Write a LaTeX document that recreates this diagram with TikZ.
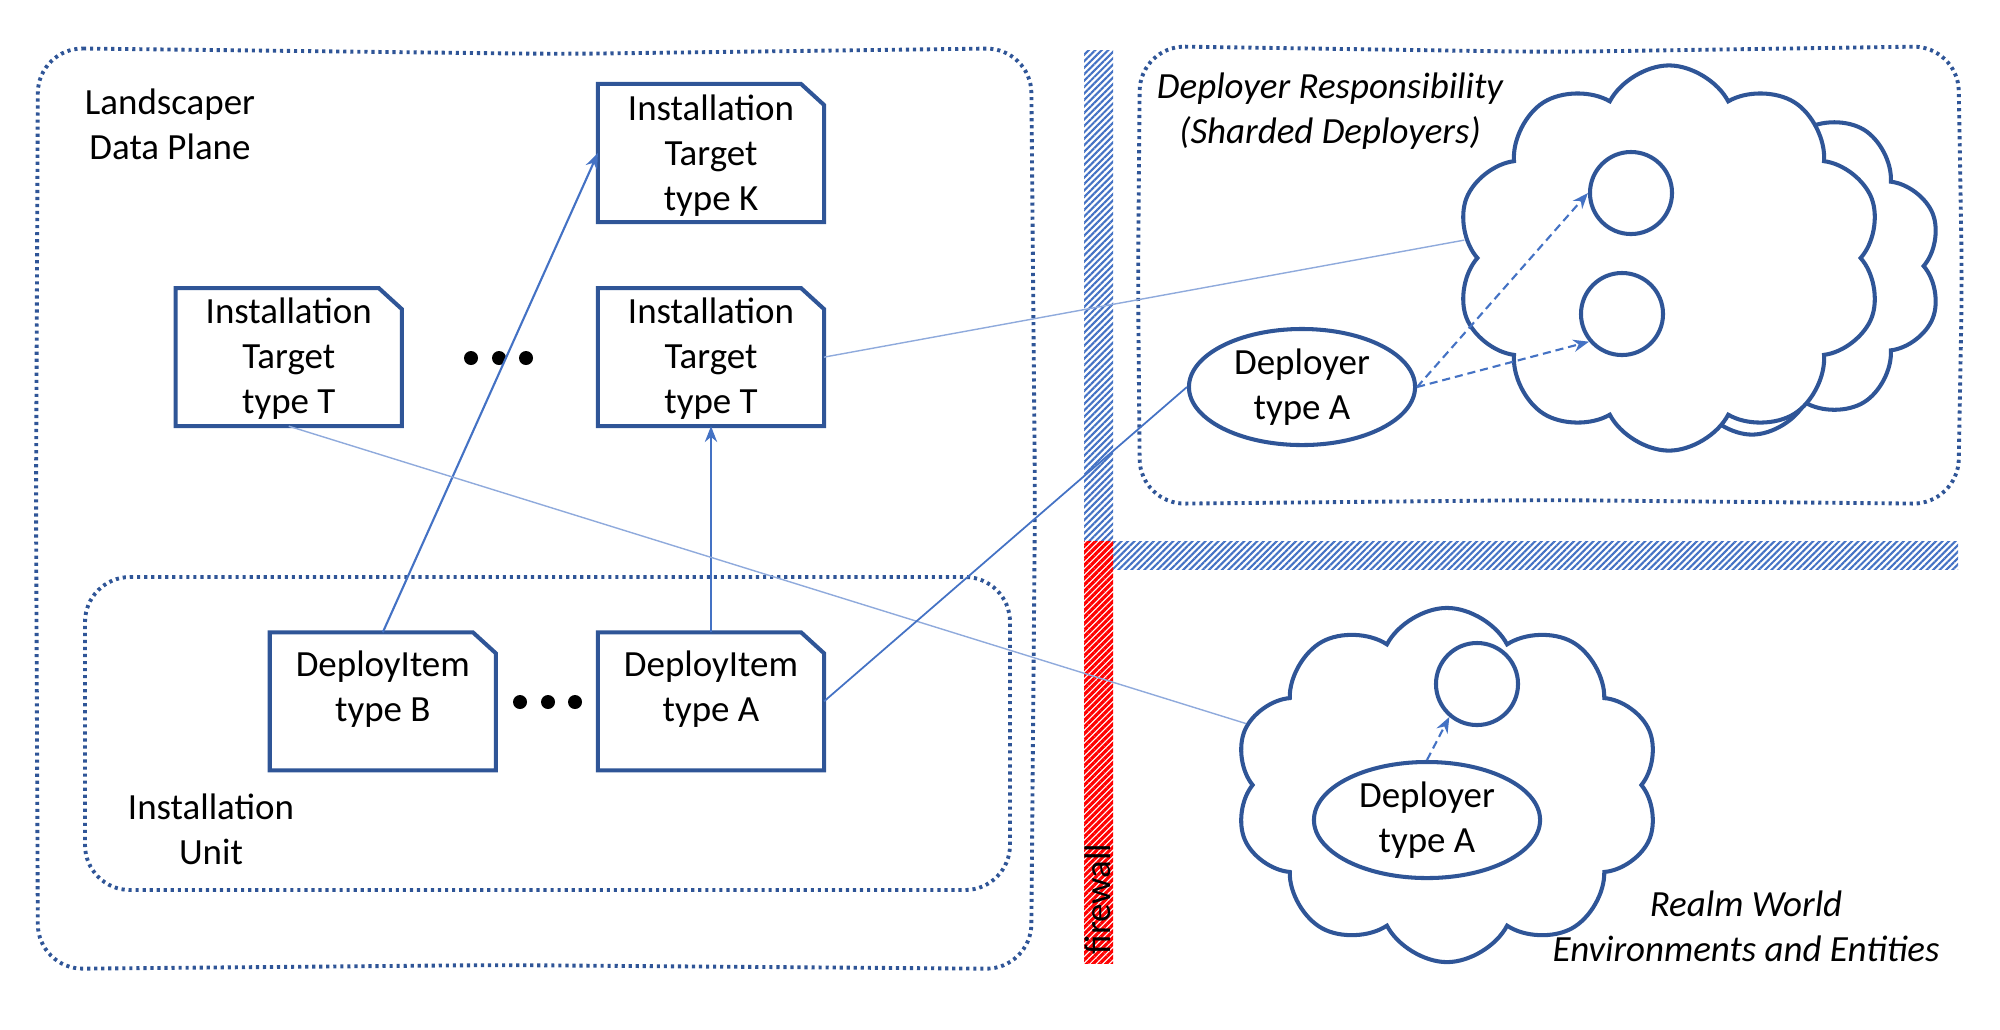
\documentclass[tikz,border=0pt]{standalone}
\usepackage{fontspec}
\setmainfont{Carlito}
\usetikzlibrary{shapes.geometric,shapes.symbols,arrows.meta,patterns.meta,positioning}

\definecolor{boxblue}{HTML}{2F5597}
\definecolor{linkblue}{HTML}{4472C4}
\definecolor{faintblue}{HTML}{8FAADC}

\begin{document}
\begin{tikzpicture}[x=0.01cm, y=-0.01cm, node distance=3cm,
	every node/.style={font=\fontsize{10.5}{12.8}\selectfont},
	doc node/.style={rectangle, outer sep=0pt, minimum width=2.26cm, minimum height=1.38cm, align=center, inner sep=0pt},
	doc line/.style={draw=boxblue, line width=1.15pt, fill=white, line join=miter},
	deployer node/.style={ellipse, draw=boxblue, line width=1.15pt, fill=white, minimum width=2.26cm, minimum height=1.16cm, align=center, inner sep=0pt},
	slot node/.style={circle, draw=boxblue, line width=1.15pt, fill=white, minimum size=0.82cm, inner sep=0pt},
	cloud node/.style={cloud, cloud puffs=10, cloud puff arc=125, cloud ignores aspect, draw=boxblue, line width=1.15pt, fill=white, inner sep=0pt},
	zone line/.style={draw=boxblue, line width=1.1pt, dash pattern=on 0.9pt off 1.1pt, rounded corners=0.45cm},
	link line/.style={draw=linkblue, line width=0.6pt, -{Stealth[length=4.5pt,width=3.5pt]}},
	call line/.style={link line, dash pattern=on 2.3pt off 1.4pt},
	trace line/.style={draw=faintblue, line width=0.4pt},
	text node/.style={align=center}]

	\useasboundingbox (0,0) rectangle (2000,1029);

	% zones
	\draw[zone line] (38,48) -- (560,54) -- (1031,48) -- (1035,500) -- (1031,969) -- (500,965) -- (38,969) -- (36,500) -- cycle;
	\draw[zone line] (85,577) -- (1010,577) -- (1010,890) -- (85,890) -- cycle;
	\draw[zone line] (1140,46) -- (1550,52) -- (1958,46) -- (1962,280) -- (1958,504) -- (1550,500) -- (1140,504) -- (1138,280) -- cycle;

	% firewall bars
	\fill[pattern={Lines[angle=45,distance=1.3pt,line width=0.6pt]}, pattern color=linkblue] (1084,50) rectangle (1113,541);
	\fill[pattern={Lines[angle=45,distance=1.3pt,line width=0.6pt]}, pattern color=linkblue] (1113,541) rectangle (1958,569);
	\fill[pattern={Lines[angle=45,distance=1.3pt,line width=0.9pt]}, pattern color=red] (1084,541) rectangle (1113,963);

	\node[text node] (plane) at (170,124) {Landscaper\\Data Plane};
	\node[text node] (unit) at (211,829) {Installation\\Unit};
	\node[text node, font=\fontsize{10.5}{12.8}\selectfont\itshape] (resp) at (1330,111) {Deployer Responsibility\\(Sharded Deployers)};
	\node[text node, font=\fontsize{10.5}{12.8}\selectfont\itshape] (realm) at (1746,926) {Realm World\\Environments and Entities};
	\node[rotate=90] (wall) at (1098,899) {firewall};

	% targets and deploy items
	\node[doc node] (itK) at (711,153) {};
	\node[doc node] (itT) [below of=itK, node distance=2.04cm] {};
	\node[doc node] (itTl) [left of=itT, node distance=4.22cm] {};
	\node[doc node] (diA) [below of=itT, node distance=3.44cm] {};
	\node[doc node] (diB) [left of=diA, node distance=3.28cm] {};
	\foreach \n in {itK,itT,itTl,diA,diB}
		\draw[doc line] (\n.south west) -- (\n.north west) -- ([xshift=-0.23cm]\n.north east)
			-- ([yshift=-0.21cm]\n.north east) -- (\n.south east) -- cycle;
	\node[align=center] at ([yshift=-0.03cm]itK) {Installation\\Target\\type K};
	\node[align=center] at ([yshift=-0.02cm]itT) {Installation\\Target\\type T};
	\node[align=center] at ([yshift=-0.02cm]itTl) {Installation\\Target\\type T};
	\node[align=center] at ([yshift=0.12cm]diA) {DeployItem\\type A};
	\node[align=center] at ([yshift=0.12cm]diB) {DeployItem\\type B};

	\foreach \x in {471,499,526}
		\fill (\x,358) circle[radius=0.07cm];
	\foreach \x in {520,548,575}
		\fill (\x,702) circle[radius=0.07cm];

	% deployer clouds
	\node[cloud node, minimum width=3.8cm, minimum height=3.37cm] (shardBack) at (1752,266) {};
	\node[cloud node, minimum width=4.26cm, minimum height=3.85cm] (shardFront) at (1669,258) {};
	\node[slot node] (s1) at (1631,193) {};
	\node[slot node] (s2) at (1622,314) {};
	\node[deployer node] (depA) at (1302,387) {Deployer\\type A};

	\node[cloud node, minimum width=4.25cm, minimum height=3.54cm] (realmCloud) at (1447,785) {};
	\node[slot node] (r1) at (1477,684) {};
	\node[deployer node] (depR) at (1427,820) {Deployer\\type A};

	\draw[link line] (diB.north) -- (itK.west);
	\draw[link line] (diA.north) -- (itT.south);
	\draw[trace line] (itTl.south) -- (realmCloud.163);
	\draw[trace line] (itT.east) -- (shardFront.175);
	\draw[draw=linkblue, line width=0.5pt] (diA.east) -- (depA.west);
	\draw[call line] (depA.east) -- (s1.west);
	\draw[call line] (depA.east) -- (s2.220);
	\draw[call line] (depR.north) -- (r1.230);
\end{tikzpicture}
\end{document}
